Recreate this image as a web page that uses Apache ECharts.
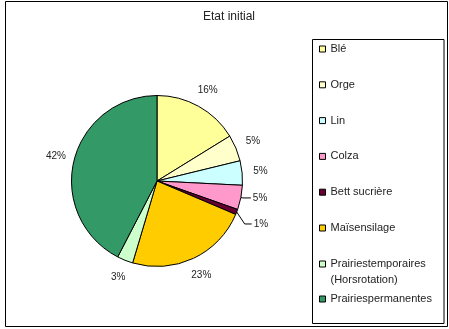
<!DOCTYPE html>
<html>
<head>
<meta charset="utf-8">
<script src="https://cdn.jsdelivr.net/npm/echarts@6/dist/echarts.min.js"></script>
<style>
html,body{margin:0;padding:0;background:#fff;}
#c{width:449px;height:329px;}
</style>
</head>
<body>
<div id="c"></div>
<script>
const titleText = 'Etat initial';
const categories = ['Blé', 'Orge', 'Lin', 'Colza', 'Bett sucrière', 'Maïsensilage', 'Prairiestemporaires (Horsrotation)', 'Prairiespermanentes'];
const values = [16.2, 5.0, 4.6, 4.6, 1.0, 23.2, 3.0, 42.4];
const colors = ['#FFFF99', '#FFFFCC', '#CCFFFF', '#FF99CC', '#660033', '#FFCC00', '#CCFFCC', '#339966'];
const lineLabelled = ['Colza', 'Bett sucrière'];

const font = '"Liberation Sans", Arial, sans-serif';
const chart = echarts.init(document.getElementById('c'), null, {renderer: 'canvas'});

const mainData = categories.map((n, i) => ({
  name: n,
  value: values[i],
  itemStyle: {color: colors[i]},
  label: {show: lineLabelled.indexOf(n) >= 0},
  labelLine: n === 'Colza' ? {show: true, length: 2, length2: 8} : {show: n === 'Bett sucrière', length: 6, length2: 6}
}));
const ringData = categories.map((n, i) => ({
  name: n,
  value: values[i],
  label: {show: lineLabelled.indexOf(n) < 0}
}));

const legendCommon = {
  orient: 'vertical',
  left: 319,
  padding: 0,
  icon: 'rect',
  itemWidth: 6,
  itemHeight: 6,
  itemGap: 21.8,
  itemStyle: {borderColor: '#000', borderWidth: 1},
  selectedMode: false,
  textStyle: {fontFamily: font, fontSize: 11, color: '#222', lineHeight: 14}
};

chart.setOption({
  animation: false,
  backgroundColor: '#fff',
  title: {
    text: titleText,
    left: 229,
    top: 11,
    padding: 0,
    textAlign: 'center',
    textStyle: {fontFamily: font, fontSize: 12, fontWeight: 'normal', color: '#222'}
  },
  legend: [
    Object.assign({}, legendCommon, {top: 42, data: categories.slice(0, 6)}),
    Object.assign({}, legendCommon, {
      top: 240,
      data: [categories[6]],
      formatter: function (n) { return ' \n' + n.replace(' ', '\n'); },
      textStyle: {fontFamily: font, fontSize: 11, color: '#222', lineHeight: 16}
    }),
    Object.assign({}, legendCommon, {top: 292, data: [categories[7]]})
  ],
  graphic: [
    {type: 'rect', shape: {x: 5.5, y: 1.5, width: 442, height: 325}, style: {fill: 'none', stroke: '#000', lineWidth: 1}, silent: true, z: -1},
    {type: 'rect', shape: {x: 312.5, y: 39.5, width: 131.5, height: 284}, style: {fill: 'none', stroke: '#000', lineWidth: 1}, silent: true, z: -1}
  ],
  series: [
    {
      type: 'pie',
      center: [157, 181],
      radius: 85.5,
      startAngle: 90,
      clockwise: true,
      avoidLabelOverlap: false,
      silent: true,
      itemStyle: {borderColor: '#000', borderWidth: 1},
      label: {
        position: 'outside',
        fontFamily: font,
        fontSize: 10,
        color: '#222',
        distanceToLabelLine: 2,
        formatter: function (p) { return Math.round(p.percent) + '%'; }
      },
      labelLine: {lineStyle: {color: '#000', width: 1}},
      labelLayout: function (params) {
        if (params.dataIndex === 4 && params.labelLinePoints) {
          const p = params.labelLinePoints[0];
          return {
            x: p[0] + 17, y: p[1] + 12, align: 'left', verticalAlign: 'middle',
            labelLinePoints: [[p[0], p[1]], [p[0] + 8, p[1] + 12], [p[0] + 15, p[1] + 12]]
          };
        }
        return {};
      },
      data: mainData
    },
    {
      type: 'pie',
      center: [157, 181],
      radius: [96, 106],
      startAngle: 90,
      clockwise: true,
      silent: true,
      itemStyle: {color: 'rgba(0,0,0,0)', borderWidth: 0},
      label: {
        position: 'inside',
        fontFamily: font,
        fontSize: 10,
        color: '#222',
        formatter: function (p) { return Math.round(p.percent) + '%'; }
      },
      labelLine: {show: false},
      data: ringData
    }
  ]
});
</script>
</body>
</html>
